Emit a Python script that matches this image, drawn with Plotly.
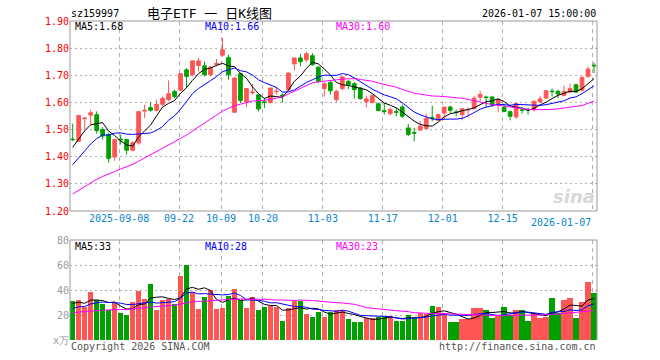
import plotly.graph_objects as go

# ---------------- data ----------------
opens = [1.465,1.457,1.540,1.553,1.555,1.500,1.482,1.399,1.465,1.463,
         1.424,1.451,1.568,1.581,1.571,1.593,1.610,1.640,1.645,1.720,
         1.702,1.736,1.735,1.702,1.740,1.774,1.765,1.564,1.706,1.602,
         1.636,1.628,1.602,1.600,1.640,1.627,1.647,1.742,1.764,1.757,
         1.772,1.730,1.651,1.674,1.610,1.651,1.678,1.669,1.653,1.602,
         1.600,1.595,1.569,1.559,1.566,1.583,1.506,1.489,1.498,1.504,
         1.544,1.534,1.561,1.583,1.565,1.555,1.573,1.577,1.619,1.620,
         1.620,1.596,1.582,1.566,1.547,1.572,1.575,1.574,1.602,1.616,
         1.642,1.641,1.626,1.638,1.665,1.645,1.696,1.737]
highs = [1.522,1.554,1.545,1.573,1.567,1.509,1.488,1.466,1.482,1.466,
         1.457,1.568,1.592,1.600,1.610,1.622,1.681,1.647,1.708,1.726,
         1.755,1.764,1.751,1.735,1.760,1.837,1.776,1.692,1.708,1.651,
         1.668,1.628,1.617,1.653,1.659,1.634,1.711,1.764,1.779,1.787,
         1.782,1.733,1.674,1.678,1.647,1.696,1.682,1.674,1.657,1.625,
         1.631,1.600,1.598,1.582,1.580,1.592,1.521,1.506,1.531,1.559,
         1.588,1.559,1.583,1.588,1.574,1.577,1.582,1.623,1.643,1.625,
         1.623,1.616,1.596,1.570,1.596,1.583,1.580,1.608,1.623,1.645,
         1.651,1.647,1.662,1.669,1.669,1.696,1.733,1.747]
lows = [1.457,1.454,1.500,1.518,1.485,1.463,1.378,1.385,1.445,1.408,
        1.420,1.445,1.543,1.566,1.567,1.588,1.604,1.615,1.641,1.653,
        1.696,1.714,1.696,1.696,1.733,1.769,1.684,1.561,1.598,1.583,
        1.629,1.567,1.580,1.596,1.629,1.600,1.641,1.718,1.733,1.749,
        1.735,1.671,1.622,1.629,1.600,1.645,1.649,1.614,1.610,1.582,
        1.596,1.567,1.555,1.552,1.549,1.543,1.476,1.457,1.494,1.500,
        1.531,1.531,1.539,1.561,1.549,1.534,1.547,1.574,1.604,1.583,
        1.583,1.564,1.564,1.534,1.539,1.559,1.555,1.567,1.598,1.612,
        1.622,1.616,1.622,1.635,1.635,1.641,1.690,1.708]
closes = [1.463,1.552,1.542,1.562,1.496,1.476,1.394,1.463,1.462,1.424,
          1.451,1.566,1.571,1.571,1.593,1.615,1.632,1.622,1.706,1.696,
          1.753,1.753,1.702,1.730,1.743,1.794,1.702,1.690,1.607,1.651,
          1.638,1.576,1.600,1.653,1.641,1.624,1.708,1.764,1.750,1.779,
          1.739,1.678,1.669,1.643,1.641,1.694,1.665,1.647,1.614,1.613,
          1.625,1.570,1.567,1.574,1.564,1.549,1.482,1.487,1.512,1.541,
          1.542,1.555,1.583,1.571,1.563,1.577,1.574,1.616,1.629,1.618,
          1.592,1.610,1.567,1.549,1.596,1.571,1.572,1.604,1.613,1.643,
          1.640,1.631,1.641,1.651,1.638,1.692,1.723,1.735]
volumes = [31.2,32.0,26.7,38.4,31.7,28.8,24.0,29.3,21.9,20.0,
           30.4,39.2,32.8,44.8,24.0,32.0,32.5,28.8,51.2,60.0,
           38.1,24.8,34.7,40.0,24.8,25.9,35.5,40.8,32.0,25.9,
           34.4,24.0,26.4,27.2,26.4,15.2,25.3,31.2,31.2,21.0,
           18.4,22.7,18.4,22.7,24.0,24.0,16.8,14.7,14.7,17.9,
           17.9,18.1,18.1,19.5,15.2,15.2,20.0,17.9,21.3,20.5,
           27.2,26.4,21.3,14.4,14.4,16.8,16.8,25.6,25.6,24.0,
           17.9,20.0,26.4,20.0,24.0,24.0,15.2,21.3,17.9,18.7,
           34.0,21.3,32.0,33.5,17.6,30.4,46.7,37.6]

# closes / volumes of the 29 sessions before the visible window (estimated
# from where the moving-average lines start), used only for the averages
prior_closes = [1.127,1.134,1.140,1.136,1.151,1.165,1.158,1.177,1.192,1.185,
                1.204,1.223,1.235,1.228,1.257,1.271,1.280,1.298,1.315,1.303,
                1.300,1.280,1.310,1.300,1.340,1.400,1.390,1.450,1.470]
prior_volumes = [18,21,17,19,23,20,16,22,24,19,18,21,25,20,17,22,19,23,21,19,
                 20,23,19,22,23,27,31,26,31]

tick_idx = [8, 18, 25, 32, 42, 52, 62, 72, 87]
tick_labels = ["2025-09-08", "09-22", "10-09", "10-20", "11-03",
               "11-17", "12-01", "12-15", "2026-01-07"]
price_ticks = [1.20, 1.30, 1.40, 1.50, 1.60, 1.70, 1.80, 1.90]
vol_ticks = [0, 20, 40, 60, 80]
vol_tick_labels = ["x万", "20", "40", "60", "80"]

# ---------------- helpers ----------------
def moving_avg(seq, pad, n):
    full = list(pad) + list(seq)
    off = len(pad)
    return [sum(full[off + i - n + 1: off + i + 1]) / n for i in range(len(seq))]

x = list(range(len(closes)))
RED = "#ff5555"
GREEN = "#00a000"
MONO = "DejaVu Sans Mono"
W, H = 660, 360
L, R, T, B = 70, 63, 21, 20
PW, PH = W - L - R, H - T - B

def px_x(p):
    return (p - L) / PW

def px_y(p):
    return (H - B - p) / PH

price_dom = [px_y(211), 1.0]
vol_dom = [0.0, px_y(240)]

fig = go.Figure()

fig.add_trace(go.Candlestick(
    x=x, open=opens, high=highs, low=lows, close=closes,
    increasing=dict(line=dict(color=RED, width=1), fillcolor=RED),
    decreasing=dict(line=dict(color=GREEN, width=1), fillcolor=GREEN),
    whiskerwidth=0, xaxis="x", yaxis="y", hoverinfo="skip", showlegend=False))

for n, col in [(5, "#000000"), (10, "#0000ff"), (30, "#ff00ff")]:
    fig.add_trace(go.Scatter(x=x, y=moving_avg(closes, prior_closes, n), mode="lines",
                             line=dict(color=col, width=1), xaxis="x", yaxis="y",
                             hoverinfo="skip", showlegend=False))

vcolors = [RED if c >= o else GREEN for o, c in zip(opens, closes)]
fig.add_trace(go.Bar(x=x, y=volumes, marker=dict(color=vcolors, line=dict(width=0)),
                     width=0.9, xaxis="x2", yaxis="y2", hoverinfo="skip", showlegend=False))
for n, col in [(5, "#000000"), (10, "#0000ff"), (30, "#ff00ff")]:
    fig.add_trace(go.Scatter(x=x, y=moving_avg(volumes, prior_volumes, n), mode="lines",
                             line=dict(color=col, width=1), xaxis="x2", yaxis="y2",
                             hoverinfo="skip", showlegend=False))

xr = [-0.45, len(closes) - 0.5]
gv = [i - 0.25 for i in tick_idx]
tt = tick_labels[:-1] + [""]
grid_common = dict(showgrid=True, gridcolor="#b0b0b0", gridwidth=1, zeroline=False,
                   showline=False, ticks="")

fig.update_layout(
    width=W, height=H, margin=dict(l=L, r=R, t=T, b=B),
    paper_bgcolor="white", plot_bgcolor="white", bargap=0, boxgap=0.12,
    font=dict(family=MONO, size=10, color="#000"), hovermode=False,
    xaxis=dict(domain=[0, 1], range=xr, anchor="y", tickvals=gv, ticktext=tt,
               tickfont=dict(color="#0a86cc", size=10, family=MONO),
               griddash="4px,4px", rangeslider=dict(visible=False), **grid_common),
    yaxis=dict(domain=price_dom, range=[1.2, 1.9], anchor="x", tickvals=price_ticks,
               ticktext=["%.2f" % v for v in price_ticks],
               tickfont=dict(color="#ff0000", size=10, family=MONO),
               griddash="2px,3px", **grid_common),
    xaxis2=dict(domain=[0, 1], range=xr, anchor="y2", tickvals=gv, showticklabels=False,
                griddash="4px,4px", **grid_common),
    yaxis2=dict(domain=vol_dom, range=[0, 80], anchor="x2", tickvals=vol_ticks,
                ticktext=vol_tick_labels,
                tickfont=dict(color="#999999", size=10, family=MONO),
                griddash="2px,3px", **grid_common),
)

line = dict(color="#999999", width=1)
fig.add_shape(type="rect", xref="paper", yref="paper", x0=0, x1=1,
              y0=price_dom[0], y1=1, line=line)
fig.add_shape(type="line", xref="paper", yref="paper", x0=0, x1=1,
              y0=vol_dom[1], y1=vol_dom[1], line=line)
fig.add_shape(type="line", xref="paper", yref="paper", x0=0, x1=0,
              y0=0, y1=vol_dom[1], line=line)
fig.add_shape(type="line", xref="paper", yref="paper", x0=1, x1=1,
              y0=0, y1=vol_dom[1], line=line)

def ann(text, xp, yp, xanchor="left", color="#000", size=10, family=MONO, **kw):
    fig.add_annotation(text=text, x=px_x(xp), y=px_y(yp), xref="paper", yref="paper",
                       xanchor=xanchor, yanchor="middle", showarrow=False,
                       font=dict(color=color, size=size, family=family, **kw))

ann("sz159997", 69, 13)
ann("电子ETF 一 日K线图", 209, 13, xanchor="center", size=13,
    family="DejaVu Sans Mono, Noto Sans CJK SC")
ann("2026-01-07 15:00:00", 598, 13, xanchor="right")
ann("MA5:1.68", 73, 27)
ann("MA10:1.66", 203, 27, color="#0000ff")
ann("MA30:1.60", 334, 27, color="#ff00ff")
ann("MA5:33", 73, 246)
ann("MA10:28", 203, 246, color="#0000ff")
ann("MA30:23", 334, 246, color="#ff00ff")
ann(tick_labels[-1], 593, 222, xanchor="right", color="#0a86cc")
ann("Copyright 2026 SINA.COM", 69, 346, color="#555555")
ann("http://finance.sina.com.cn", 598, 346, xanchor="right", color="#555555")
ann("sina", 597, 196, xanchor="right", color="#d8d8d8", size=18,
    family="DejaVu Sans", weight="bold", style="italic")

fig.write_html("out.html",
               config={"displayModeBar": False, "staticPlot": True},
               post_script="document.body.style.margin='0';"
                           "document.body.style.overflow='hidden';")
